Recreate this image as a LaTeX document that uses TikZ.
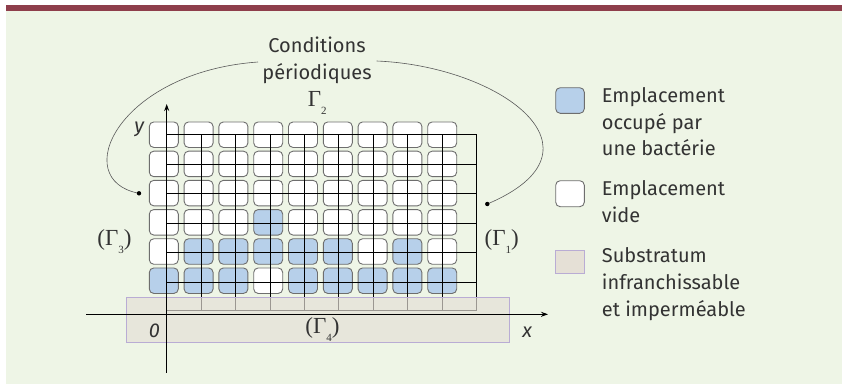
\documentclass[tikz,border=0pt]{standalone}
\usepackage{fontspec}
\setmainfont{Fira Sans}
\newfontfamily\gfont{Liberation Serif}
\usetikzlibrary{arrows.meta}
\definecolor{bgc}{HTML}{EEF5E6}
\definecolor{barc}{HTML}{8E3E4B}
\definecolor{occ}{HTML}{B7D0EA}
\definecolor{subc}{HTML}{E5E0D6}
\definecolor{subedge}{HTML}{B9ACD4}
\definecolor{celledge}{HTML}{6E6E6E}
\definecolor{txt}{HTML}{333333}
\newcommand\gsub[1]{\raisebox{-8pt}{\fontsize{11}{11}\selectfont #1}}
\begin{document}
\begin{tikzpicture}[x=1pt,y=-1pt,
  celle/.style={draw=celledge, line width=0.9pt, rounded corners=4.5pt,
    minimum width=29pt, minimum height=25.5pt, inner sep=0pt, outer sep=0pt, fill=white},
  cellf/.style={celle, fill=occ},
  gridline/.style={black, line width=0.7pt},
  axisline/.style={black, line width=1.1pt, -{Stealth[length=7pt,width=5pt]}},
  arcline/.style={black!65, line width=0.6pt},
  lbl/.style={font=\fontsize{20}{26.5}\selectfont, text=txt, inner sep=0pt, anchor=base west},
  ctr/.style={font=\fontsize{20}{26.5}\selectfont, text=txt, inner sep=0pt, anchor=base},
  glab/.style={font=\gfont\fontsize{23}{26}\selectfont, text=txt, inner sep=0pt, anchor=base},
  ital/.style={font=\fontsize{20}{22}\selectfont\itshape, text=txt, inner sep=0pt, anchor=base},
  subst/.style={fill=subc, draw=subedge, line width=0.9pt, inner sep=0pt, outer sep=0pt},
]
\useasboundingbox (0,0) rectangle (842,384);
% background and top bar
\fill[bgc] (6,10) rectangle (842,384);
\fill[barc] (6,5) rectangle (842,10.6);

% cells
\foreach \r/\sa/\sb/\sc/\sd/\se/\sf/\sg/\sh/\si in
  {0/e/e/e/e/e/e/e/e/e, 1/e/e/e/e/e/e/e/e/e, 2/e/e/e/e/e/e/e/e/e,
   3/e/e/e/f/e/e/e/e/e, 4/e/f/f/f/f/f/e/f/e, 5/f/f/f/e/f/f/f/f/f}{
  \foreach \s [count=\k from 0] in {\sa,\sb,\sc,\sd,\se,\sf,\sg,\sh,\si}{
    \node[cell\s] (c\r\k) at ({163.8+34.8*\k},{134.7+29.2*\r}) {};
  }
}

% grid lines
\foreach \k in {0,...,8}{
  \draw[gridline] ({166.7+34.4*\k},134.3) -- ({166.7+34.4*\k},310.7);
}
\draw[gridline] (476,134.3) -- (476,310.7);
\foreach \r in {0,...,5}{
  \draw[gridline] (166.7,{134.3+29.6*\r}) -- (476,{134.3+29.6*\r});
}
\draw[gridline] (166.7,310.7) -- (476,310.7);

% substratum
\path[subst, fill opacity=0.68] (126,297.3) rectangle (509,342.7);
\node[inner sep=0pt] (substrat) at (317.5,320) {};

% axes
\coordinate (xs) at (86,314.3);
\coordinate (xe) at (548,314.3);
\coordinate (ys) at (166.7,372.7);
\coordinate (ye) at (166.7,104);
\draw[axisline] (xs) -- (xe);
\draw[axisline] (ys) -- (ye);

% axis labels
\node[ital] (ylab) at (139.3,132.8) {y};
\node[ital] (olab) at (154.3,337.3) {0};
\node[ital] (xlab) at (527.2,337.3) {x};

% boundary labels
\node[glab] (g2) at (317.3,106.7) {Γ\gsub{2}};
\node[glab] (g3) at (114.5,245) {(Γ\gsub{3})};
\node[glab] (g1) at (501.7,245) {(Γ\gsub{1})};
\node[glab] (g4) at (322.5,333.3) {(Γ\gsub{4})};

% periodic conditions
\node[ctr] (cond1) at (317,52.7) {Conditions};
\node[ctr] (cond2) at (317,79.5) {périodiques};
\coordinate (arcL) at (258,62);
\coordinate (arcR) at (376.7,61);
\coordinate (dotL) at (139,193.3);
\coordinate (dotR) at (487.3,204);
\draw[arcline] (arcL) .. controls (118,72) and (68,180) .. (dotL);
\draw[arcline] (arcR) .. controls (500,66) and (615,150) .. (dotR);
\fill[black] (dotL) circle (2.2);
\fill[black] (dotR) circle (2.2);

% legend
\node[celle, fill=occ, minimum width=28.6pt, minimum height=25.6pt] (legocc) at (570,100.5) {};
\node[celle, minimum width=28.6pt, minimum height=26pt] (legvide) at (570,193.7) {};
\node[subst, minimum width=28.3pt, minimum height=22.6pt] (legsub) at (569.9,262) {};
\node[lbl] (l1a) at (601.7,102.7) {Emplacement};
\node[lbl] (l1b) at (601.7,129.3) {occupé par};
\node[lbl] (l1c) at (601.7,155.7) {une bactérie};
\node[lbl] (l2a) at (601.7,195) {Emplacement};
\node[lbl] (l2b) at (601.7,222.3) {vide};
\node[lbl] (l3a) at (601.7,262.7) {Substratum};
\node[lbl] (l3b) at (601.7,289.3) {infranchissable};
\node[lbl] (l3c) at (601.7,316) {et imperméable};
\end{tikzpicture}
\end{document}
